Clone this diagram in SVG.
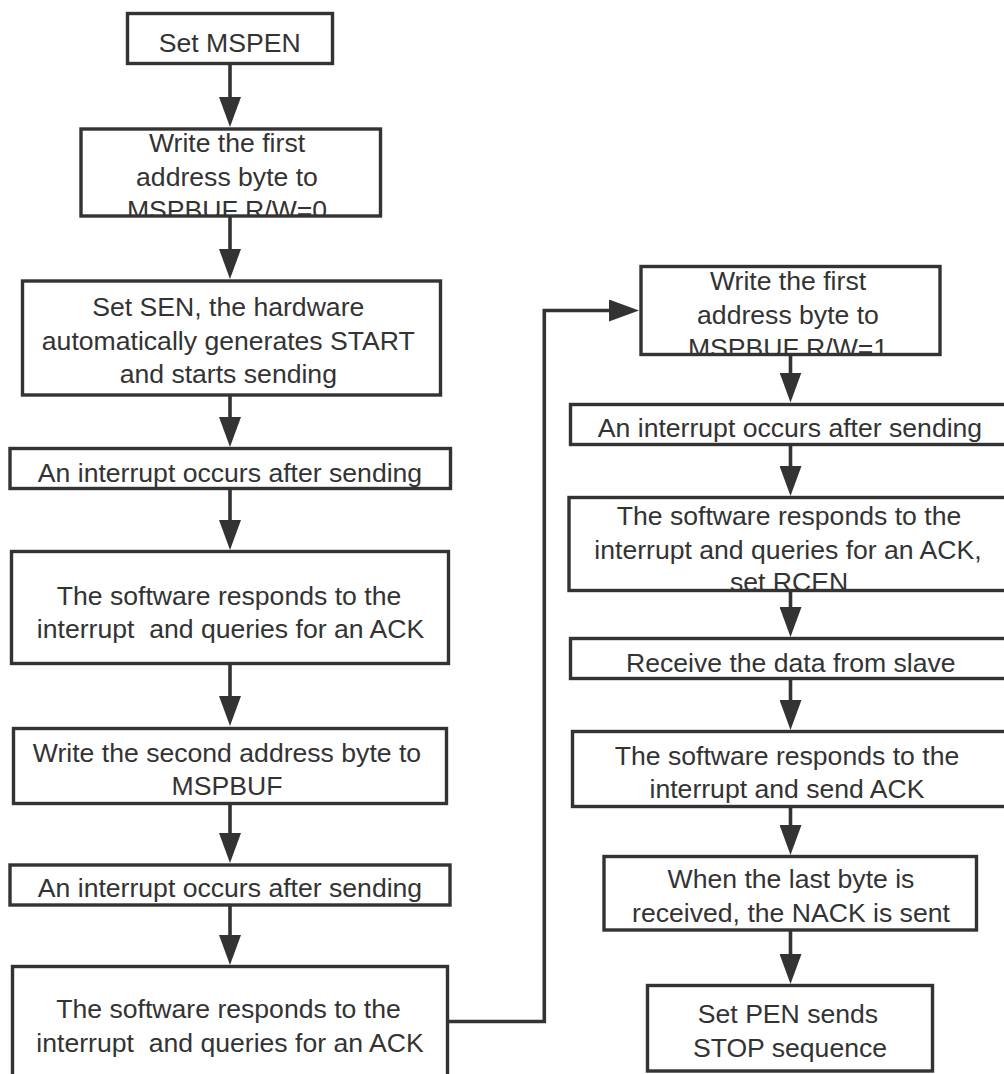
<svg xmlns="http://www.w3.org/2000/svg" width="1004" height="1074" viewBox="0 0 1004 1074">
<style>
.box{fill:#fff;stroke:#333;stroke-width:3.4}
.t{font-family:"Liberation Sans",Arial,sans-serif;font-size:26.6px;fill:#333;text-anchor:middle}
.c{fill:none;stroke:#333;stroke-width:3.6}
</style>
<defs>
<marker id="ah" viewBox="0 0 30 22" refX="20" refY="11" markerWidth="30" markerHeight="22" markerUnits="userSpaceOnUse" orient="auto">
<path d="M0,0 L30,11 L0,22 Z" fill="#333"/>
</marker>
<clipPath id="cp2"><rect x="81" y="129" width="299.5" height="86"/></clipPath>
<clipPath id="cp9"><rect x="641" y="266.5" width="299" height="87"/></clipPath>
<clipPath id="cp11"><rect x="569" y="497.5" width="442" height="92"/></clipPath>
</defs>
<rect width="1004" height="1074" fill="#fff"/>
<g id="connectors">
<path class="c" d="M230,64 V117" marker-end="url(#ah)"/>
<path class="c" d="M230,217 V269" marker-end="url(#ah)"/>
<path class="c" d="M230,396 V437" marker-end="url(#ah)"/>
<path class="c" d="M230,489 V540" marker-end="url(#ah)"/>
<path class="c" d="M230,664 V716" marker-end="url(#ah)"/>
<path class="c" d="M230,804 V853" marker-end="url(#ah)"/>
<path class="c" d="M230,906 V955" marker-end="url(#ah)"/>
<path class="c" d="M448,1021.5 H544.3 V310.5 H629" marker-end="url(#ah)"/>
<path class="c" d="M790.5,355 V392.5" marker-end="url(#ah)"/>
<path class="c" d="M790.5,445 V486" marker-end="url(#ah)"/>
<path class="c" d="M790.5,591 V627" marker-end="url(#ah)"/>
<path class="c" d="M790.5,679 V720" marker-end="url(#ah)"/>
<path class="c" d="M790.5,807 V845" marker-end="url(#ah)"/>
<path class="c" d="M790.5,930 V974" marker-end="url(#ah)"/>
</g>
<g id="n1">
<rect class="box" x="127.5" y="13.5" width="205" height="50"/>
<text class="t" x="229.7" y="52">Set MSPEN</text>
</g>
<g id="n2">
<rect class="box" x="81" y="129" width="299.5" height="87"/>
<g clip-path="url(#cp2)">
<text class="t" x="227" y="151.7">Write the first</text>
<text class="t" x="227" y="186">address byte to</text>
<text class="t" x="227" y="219">MSPBUF R/W=0</text>
</g>
</g>
<g id="n3">
<rect class="box" x="22.5" y="281" width="418" height="114"/>
<text class="t" x="228.3" y="316">Set SEN, the hardware</text>
<text class="t" x="228.3" y="349.7">automatically generates START</text>
<text class="t" x="228.3" y="383.3">and starts sending</text>
</g>
<g id="n4">
<rect class="box" x="10" y="448.5" width="440.5" height="40"/>
<text class="t" x="230" y="481.7">An interrupt occurs after sending</text>
</g>
<g id="n5">
<rect class="box" x="11.5" y="551.5" width="437" height="112"/>
<text class="t" x="229" y="605">The software responds to the</text>
<text class="t" x="230.5" y="638" xml:space="preserve">interrupt  and queries for an ACK</text>
</g>
<g id="n6">
<rect class="box" x="13.5" y="728.5" width="433" height="75"/>
<text class="t" x="227" y="761.7">Write the second address byte to</text>
<text class="t" x="227" y="795">MSPBUF</text>
</g>
<g id="n7">
<rect class="box" x="10" y="865" width="440" height="40"/>
<text class="t" x="230" y="896.7">An interrupt occurs after sending</text>
</g>
<g id="n8">
<rect class="box" x="12.5" y="966.5" width="435" height="120"/>
<text class="t" x="228.5" y="1018.3">The software responds to the</text>
<text class="t" x="230" y="1051.7" xml:space="preserve">interrupt  and queries for an ACK</text>
</g>
<g id="n9">
<rect class="box" x="641" y="266.5" width="299" height="88"/>
<g clip-path="url(#cp9)">
<text class="t" x="788" y="290">Write the first</text>
<text class="t" x="788" y="324">address byte to</text>
<text class="t" x="788" y="356.5">MSPBUF R/W=1</text>
</g>
</g>
<g id="n10">
<rect class="box" x="570.5" y="404.5" width="440" height="40"/>
<text class="t" x="790" y="436.7">An interrupt occurs after sending</text>
</g>
<g id="n11">
<rect class="box" x="569" y="497.5" width="442" height="93"/>
<g clip-path="url(#cp11)">
<text class="t" x="789" y="525">The software responds to the</text>
<text class="t" x="788" y="558.5">interrupt and queries for an ACK,</text>
<text class="t" x="789" y="591">set RCEN</text>
</g>
</g>
<g id="n12">
<rect class="box" x="570.5" y="638.5" width="440" height="40"/>
<text class="t" x="790.8" y="671.7">Receive the data from slave</text>
</g>
<g id="n13">
<rect class="box" x="572.5" y="731.5" width="438" height="75"/>
<text class="t" x="787" y="765">The software responds to the</text>
<text class="t" x="787" y="798.3">interrupt and send ACK</text>
</g>
<g id="n14">
<rect class="box" x="604" y="856.5" width="372.5" height="73.5"/>
<text class="t" x="791" y="888.3">When the last byte is</text>
<text class="t" x="791" y="921.7">received, the NACK is sent</text>
</g>
<g id="n15">
<rect class="box" x="647.5" y="985.5" width="285" height="85.5"/>
<text class="t" x="788" y="1023.3">Set PEN sends</text>
<text class="t" x="790" y="1056.7">STOP sequence</text>
</g>
</svg>
